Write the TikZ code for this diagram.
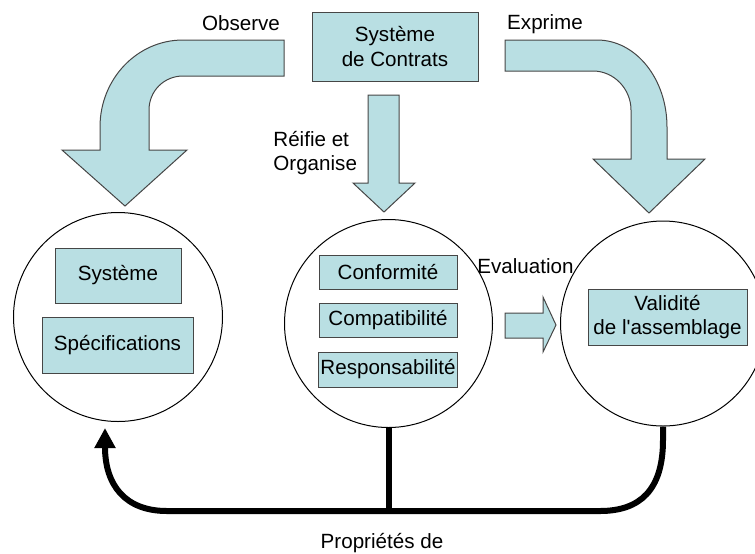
\documentclass[tikz,border=0pt]{standalone}
\usepackage{fontspec}
\setmainfont{Liberation Sans}
\usetikzlibrary{arrows.meta}
\definecolor{boxfill}{RGB}{185,223,227}
\definecolor{boxline}{RGB}{70,70,70}
\tikzset{
  box/.style={draw=boxline, fill=boxfill, line width=0.5pt, inner sep=1pt, align=center},
  ring/.style={draw, circle, line width=0.5pt, inner sep=0pt},
  fat/.style={draw=boxline, fill=boxfill, line width=0.5pt, line join=miter},
  link/.style={line width=3pt}
}

\begin{document}
\begin{tikzpicture}[x=0.5pt, y=-0.5pt, font=\fontsize{10.3}{12.4}\selectfont]
\clip (0,0) rectangle (755,553);

\node[ring, minimum size=104.5pt] (c1) at (118,317) {};

\node[ring, minimum size=104pt] (c2) at (388.5,323.5) {};

\node[ring, minimum size=102.5pt] (c3) at (663,323.5) {};

\node[box, minimum width=83pt, minimum height=34.5pt] (1) at (395,46.5)
{Système\\de Contrats};

\node[box, minimum width=63pt, minimum height=27.5pt] (2) at (118,275.5)
{Système};

\node[box, minimum width=75.5pt, minimum height=28pt] (3) at (117.5,345)
{Spécifications};

\node[box, minimum width=69pt, minimum height=17pt] (4) at (388,272)
{Conformité};

\node[box, minimum width=69pt, minimum height=17pt] (5) at (388,320)
{Compatibilité};

\node[box, minimum width=69pt, minimum height=17.5pt] (6) at (388,369.5)
{Responsabilité};

\node[box, minimum width=79.5pt, minimum height=28pt] (7) at (667.5,317)
{Validité\\de l\textquotesingle assemblage};

\node[anchor=base] (8) at (241,30) {Observe};

\node[anchor=base] (9) at (545,29) {Exprime};

\node[anchor=west, align=left, inner sep=0pt] (10) at (273,153)
{Réifie et\\Organise};

\node[anchor=base] (11) at (525.5,273) {Evaluation};

\node[anchor=base] (12) at (382,548) {Propriétés de};

\fill[fat] (284,40) -- (183,40) .. controls (137,40) and (100,79) .. (100,127)
  -- (100,150) -- (62,150) -- (125,206) -- (187,150) -- (149,150) -- (149,110)
  .. controls (149,91) and (164,76) .. (183,76) -- (284,76) -- cycle;

\fill[fat] (505,40) -- (597,40) .. controls (636,40) and (667,79) .. (667,127)
  -- (667,159) -- (705,159) -- (649,213) -- (593,159) -- (631,159) -- (631,110)
  .. controls (631,89) and (614,71) .. (593,71) -- (505,71) -- cycle;

\fill[fat] (368,95) -- (399,95) -- (399,183) -- (415,183) -- (384,212)
  -- (353,183) -- (368,183) -- cycle;

\fill[fat] (505,313) -- (543,313) -- (543,297) -- (556,325) -- (543,352)
  -- (543,338) -- (505,338) -- cycle;

\coordinate (a) at (105,428);
\coordinate (b) at (388.5,511);

\draw[link, -{Triangle[length=10pt,width=10pt]}] (c3.south) -- (663,440)
  .. controls (663,490) and (640,511) .. (600,511) -- (167,511)
  .. controls (125,511) and (105,485) .. (a);

\draw[link] (c2.south) -- (b);
\end{tikzpicture}
\end{document}
